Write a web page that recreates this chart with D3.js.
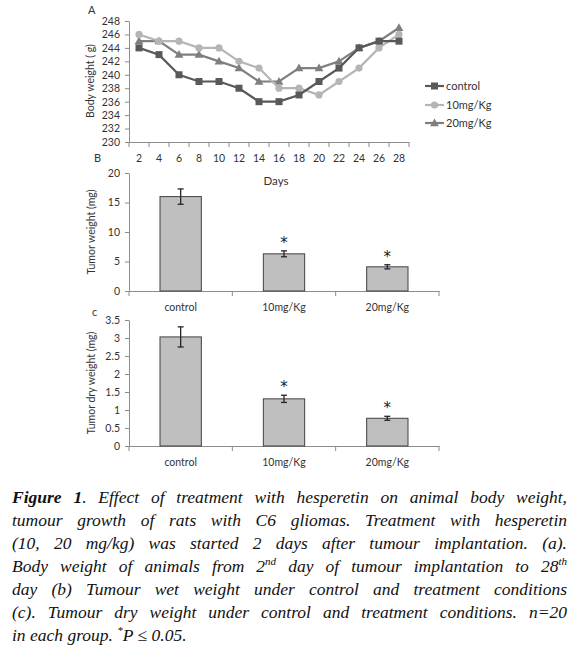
<!DOCTYPE html>
<html>
<head>
<meta charset="utf-8">
<script src="https://cdn.jsdelivr.net/npm/d3@7"></script>
<style>
  html, body { margin: 0; padding: 0; background: #fff; }
  #wrap { position: relative; width: 571px; height: 655px; overflow: hidden; }
  svg { position: absolute; left: 0; top: 0; }
  .axis text { font-family: Lato, "Open Sans", sans-serif; font-size: 10.5px; fill: #333; }
  .axis path, .axis line { stroke: #8c8c8c; }
  .lbl { font-family: Lato, "Open Sans", sans-serif; font-size: 10.5px; fill: #333; }
  #caption { position: absolute; left: 12px; top: 486px; width: 555px;
    font-family: "Liberation Serif", "Times New Roman", serif; font-style: italic;
    font-size: 17.5px; line-height: 23px; color: #111; }
  #caption div { white-space: nowrap; text-align: justify; text-align-last: justify; }
  #caption div.last { text-align-last: left; }
  #caption sup { font-size: 11px; line-height: 0; vertical-align: baseline; position: relative; top: -7px; }
</style>
</head>
<body>
<div id="wrap">
<svg id="chart" width="571" height="480"></svg>
<div id="caption">
  <div><b>Figure 1</b>. Effect of treatment with hesperetin on animal body weight,</div>
  <div>tumour growth of rats with C6 gliomas. Treatment with hesperetin</div>
  <div>(10, 20 mg/kg) was started 2 days after tumour implantation. (a).</div>
  <div>Body weight of animals from 2<sup>nd</sup> day of tumour implantation to 28<sup>th</sup></div>
  <div>day (b) Tumour wet weight under control and treatment conditions</div>
  <div>(c). Tumour dry weight under control and treatment conditions. n=20</div>
  <div class="last">in each group. <sup>*</sup>P ≤ 0.05.</div>
</div>
</div>
<script>
// ---------- DATA ----------
const days = [2,4,6,8,10,12,14,16,18,20,22,24,26,28];
const controlWeight = [244,243,240,239,239,238,236,236,237,239,241,244,245,245];
const mg10Weight    = [246,245,245,244,244,242,241,238,238,237,239,241,244,246];
const mg20Weight    = [245,245,243,243,242,241,239,239,241,241,242,244,245,247];
const seriesNames = ["control","10mg/Kg","20mg/Kg"];
const bodyTicks = [230,232,234,236,238,240,242,244,246,248];

const groups = ["control","10mg/Kg","20mg/Kg"];
const wetWeight = [16.0, 6.3, 4.1];
const wetErr    = [1.3, 0.5, 0.35];
const wetSig    = [false, true, true];
const wetTicks  = [0,5,10,15,20];

const dryWeight = [3.03, 1.31, 0.77];
const dryErr    = [0.28, 0.10, 0.055];
const drySig    = [false, true, true];
const dryTicks  = [0,0.5,1,1.5,2,2.5,3,3.5];

// ---------- STYLE ----------
const colors = ["#595959","#b5b5b5","#7f7f7f"];
const markers = ["square","circle","triangle"];
const svg = d3.select("#chart");
const font = 'Lato, "Open Sans", sans-serif';

// ---------- PANEL A ----------
const xA = d3.scaleBand().domain(days).range([129,409]).padding(0);
const yA = d3.scaleLinear().domain([230,248]).range([142,21]);

svg.append("g").attr("class","axis").attr("transform","translate(129,0)")
  .call(d3.axisLeft(yA).tickValues(bodyTicks).tickSize(4).tickSizeOuter(0).tickPadding(5));
const gAx = svg.append("g").attr("class","axis").attr("transform","translate(0,142)")
  .call(d3.axisBottom(xA).tickSize(0).tickPadding(13));
gAx.selectAll(".tick line").remove();
gAx.selectAll("line.bt").data(d3.range(days.length+1)).enter().append("line")
  .attr("class","bt").attr("x1",i=>129+i*xA.bandwidth()).attr("x2",i=>129+i*xA.bandwidth())
  .attr("y1",0).attr("y2",5).attr("stroke","#8c8c8c");

svg.append("text").attr("class","lbl").attr("x",88).attr("y",14).text("A").style("font-size","11px");
svg.append("text").attr("class","lbl").attr("transform","translate(94,81) rotate(-90)")
  .attr("text-anchor","middle").text("Body weight ( g)");
svg.append("text").attr("class","lbl").attr("x",276).attr("y",185)
  .attr("text-anchor","middle").style("font-size","11.5px").text("Days");

const seriesData = [controlWeight, mg10Weight, mg20Weight];
const line = d3.line().x((d,i)=>xA(days[i])+xA.bandwidth()/2).y(d=>yA(d));

function drawMarker(g, type, x, y, color) {
  if (type==="square") {
    g.append("rect").attr("x",x-3.5).attr("y",y-3.5).attr("width",7).attr("height",7).attr("fill",color);
  } else if (type==="circle") {
    g.append("circle").attr("cx",x).attr("cy",y).attr("r",3.6).attr("fill",color);
  } else {
    g.append("path").attr("d",d3.symbol(d3.symbolTriangle,34)()).attr("transform",`translate(${x},${y+0.6})`).attr("fill",color);
  }
}

[2,1,0].forEach(s => {
  const g = svg.append("g");
  g.append("path").datum(seriesData[s]).attr("d",line).attr("fill","none")
    .attr("stroke",colors[s]).attr("stroke-width",2.2);
  seriesData[s].forEach((v,i)=> drawMarker(g, markers[s], xA(days[i])+xA.bandwidth()/2, yA(v), colors[s]));
});

// legend
const legY = [86,105,123];
seriesNames.forEach((n,s)=>{
  const g = svg.append("g");
  g.append("line").attr("x1",425).attr("x2",444).attr("y1",legY[s]).attr("y2",legY[s])
    .attr("stroke",colors[s]).attr("stroke-width",2.2);
  drawMarker(g, markers[s], 434.5, legY[s], colors[s]);
  g.append("text").attr("class","lbl").attr("x",446).attr("y",legY[s]+4).style("font-size","11px").text(n);
});

// ---------- BAR PANELS ----------
function barPanel(cfg) {
  const x = d3.scaleBand().domain(groups).range([129,439]).padding(0);
  const y = d3.scaleLinear().domain(cfg.domain).range([cfg.bottom,cfg.top]);
  svg.append("g").attr("class","axis").attr("transform","translate(129,0)")
    .call(d3.axisLeft(y).tickValues(cfg.ticks).tickFormat(d3.format("~g")).tickSize(4).tickSizeOuter(0).tickPadding(5));
  const gx = svg.append("g").attr("class","axis").attr("transform",`translate(0,${cfg.bottom})`)
    .call(d3.axisBottom(x).tickSize(0).tickPadding(13));
  gx.selectAll(".tick line").remove();
  gx.selectAll("line.bt").data(d3.range(groups.length+1)).enter().append("line")
    .attr("class","bt").attr("x1",i=>129+i*x.bandwidth()).attr("x2",i=>129+i*x.bandwidth())
    .attr("y1",0).attr("y2",5).attr("stroke","#8c8c8c");
  const bw = x.bandwidth()*0.4;
  groups.forEach((gname,i)=>{
    const cx = x(gname)+x.bandwidth()/2;
    const v = cfg.values[i], e = cfg.err[i];
    svg.append("rect").attr("x",cx-bw/2).attr("y",y(v)).attr("width",bw).attr("height",y(cfg.domain[0])-y(v))
      .attr("fill","#bfbfbf").attr("stroke","#404040").attr("stroke-width",1);
    const eg = svg.append("g").attr("stroke","#262626").attr("stroke-width",1.3);
    eg.append("line").attr("x1",cx).attr("x2",cx).attr("y1",y(v+e)).attr("y2",y(v-e));
    eg.append("line").attr("x1",cx-3).attr("x2",cx+3).attr("y1",y(v+e)).attr("y2",y(v+e));
    eg.append("line").attr("x1",cx-3).attr("x2",cx+3).attr("y1",y(v-e)).attr("y2",y(v-e));
    if (cfg.sig[i]) {
      svg.append("text").attr("x",cx).attr("y",y(v+e)-3).attr("text-anchor","middle")
        .style("font-family","'DejaVu Sans', sans-serif").style("font-size","15px").attr("fill","#222").text("*");
    }
  });
  svg.append("text").attr("class","lbl").attr("x",cfg.letterX).attr("y",cfg.letterY).style("font-size","11px").text(cfg.letter);
  svg.append("text").attr("class","lbl").attr("transform",`translate(95,${(cfg.top+cfg.bottom)/2}) rotate(-90)`)
    .attr("text-anchor","middle").text(cfg.title);
}

barPanel({domain:[0,20], ticks:wetTicks, top:173, bottom:291, values:wetWeight, err:wetErr, sig:wetSig,
  letter:"B", letterX:94, letterY:162, title:"Tumor weight (mg)"});
barPanel({domain:[0,3.5], ticks:dryTicks, top:320, bottom:446, values:dryWeight, err:dryErr, sig:drySig,
  letter:"c", letterX:92, letterY:316, title:"Tumor dry weight (mg)"});
</script>
</body>
</html>
